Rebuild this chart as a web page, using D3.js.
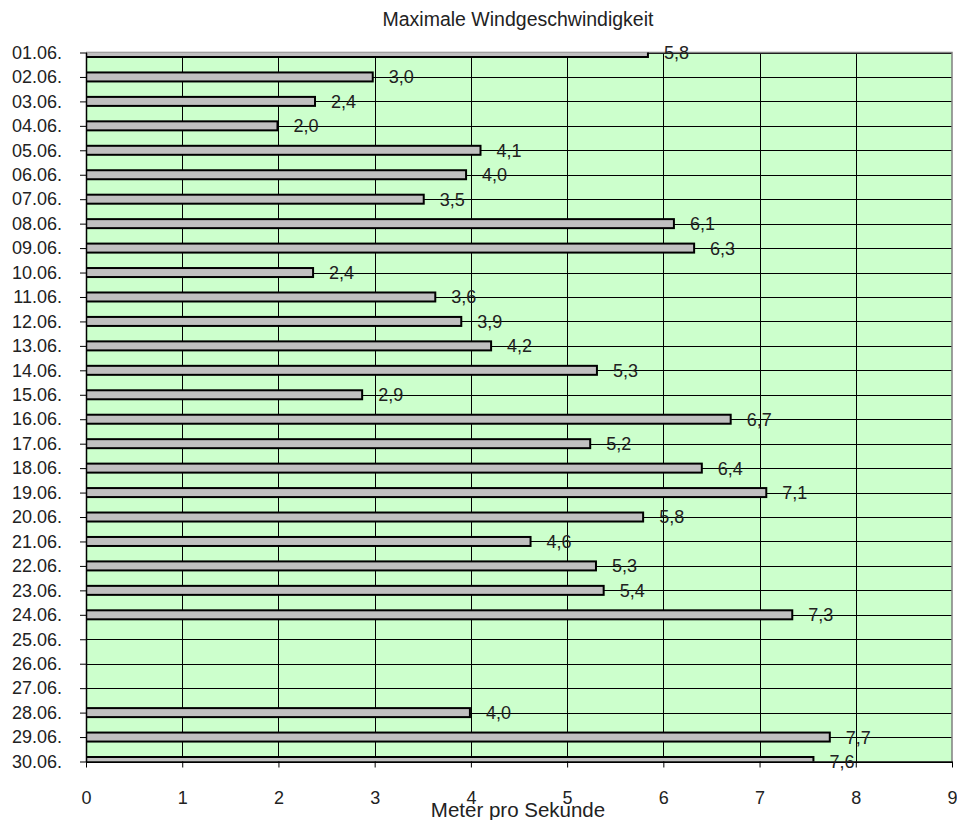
<!DOCTYPE html>
<html><head><meta charset="utf-8">
<script src="https://cdn.jsdelivr.net/npm/d3@7"></script>
<style>body{margin:0;background:#fff}svg text{font-family:"Liberation Sans",Arial,sans-serif;fill:#222}</style>
</head><body><svg id="c" width="957" height="820"></svg>
<script>
const categories = ["01.06.","02.06.","03.06.","04.06.","05.06.","06.06.","07.06.","08.06.","09.06.","10.06.",
"11.06.","12.06.","13.06.","14.06.","15.06.","16.06.","17.06.","18.06.","19.06.","20.06.",
"21.06.","22.06.","23.06.","24.06.","25.06.","26.06.","27.06.","28.06.","29.06.","30.06."];
const values = [5.84,2.98,2.38,1.99,4.10,3.95,3.51,6.11,6.32,2.36,
3.63,3.90,4.21,5.31,2.87,6.70,5.24,6.40,7.07,5.79,
4.62,5.30,5.38,7.34,null,null,null,3.99,7.73,7.56];
const xTicks = [0,1,2,3,4,5,6,7,8,9];
const title = "Maximale Windgeschwindigkeit";
const xTitle = "Meter pro Sekunde";

const svg = d3.select("#c");
const L = 86, R = 952, T = 52.5, B = 761.5;
const x = d3.scaleLinear().domain([0,9]).range([L,R]);
const y = d3.scalePoint().domain(categories).range([T,B]);

svg.append("rect").attr("x",L).attr("y",T).attr("width",R-L).attr("height",B-T).attr("fill","#ccffcc");
svg.append("defs").append("clipPath").attr("id","clip").append("rect")
  .attr("x",L).attr("y",T).attr("width",R-L+2).attr("height",B-T);

// gridlines
svg.append("g").selectAll("line").data(categories).join("line")
  .attr("x1",L).attr("x2",R).attr("y1",d=>Math.round(y(d))+0.5).attr("y2",d=>Math.round(y(d))+0.5)
  .attr("stroke","#000").attr("stroke-width",1);
svg.append("g").selectAll("line").data(xTicks.slice(1,-1)).join("line")
  .attr("x1",d=>Math.round(x(d))+0.5).attr("x2",d=>Math.round(x(d))+0.5).attr("y1",T).attr("y2",B)
  .attr("stroke","#000").attr("stroke-width",1);

// plot border (grey)
svg.append("path").attr("d",`M${L},${T}H${R}V${B}`).attr("fill","none").attr("stroke","#808080").attr("stroke-width",1.5);

// bars
const data = categories.map((c,i)=>({c,v:values[i]})).filter(d=>d.v!=null);
svg.append("g").attr("clip-path","url(#clip)").selectAll("rect").data(data).join("rect")
  .attr("x",L).attr("y",d=>y(d.c)-4.5).attr("width",d=>x(d.v)-L).attr("height",9)
  .attr("fill","#c0c0c0").attr("stroke","#000").attr("stroke-width",2);

// axes
const xa = svg.append("g").attr("transform",`translate(0,${B})`)
  .call(d3.axisBottom(x).tickValues(xTicks).tickSize(6).tickSizeOuter(0).tickFormat(d=>d).tickPadding(24));
xa.select(".domain").attr("stroke","#000").attr("stroke-width",1.5);
xa.selectAll(".tick line").attr("stroke","#000");
xa.selectAll("text").attr("font-size",18).attr("fill","#222");

const ya = svg.append("g").attr("transform",`translate(${L},0)`)
  .call(d3.axisLeft(y).tickSize(6).tickSizeOuter(0).tickPadding(18));
ya.select(".domain").attr("stroke","#000").attr("stroke-width",1.5);
ya.selectAll(".tick line").attr("stroke","#000");
ya.selectAll("text").attr("font-size",18).attr("fill","#222");

// data labels
svg.append("g").selectAll("text").data(data).join("text")
  .attr("x",d=>x(d.v)+16).attr("y",d=>y(d.c)).attr("dy","0.36em")
  .attr("font-size",18).text(d=>d3.format(".1f")(d.v).replace(".",","));

svg.append("text").attr("x",518).attr("y",26).attr("text-anchor","middle").attr("font-size",19.5).text(title);
svg.append("text").attr("x",518).attr("y",817).attr("text-anchor","middle").attr("font-size",20.5).text(xTitle);
</script></body></html>
